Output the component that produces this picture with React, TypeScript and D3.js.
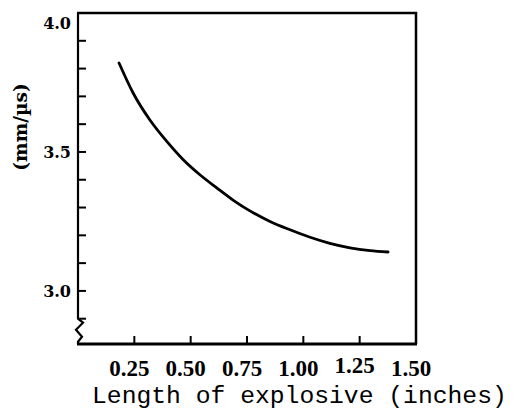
import React from "react";
import * as d3 from "d3";

const curveX = [0.182, 0.244, 0.32, 0.395, 0.466, 0.541, 0.617, 0.688, 0.763, 0.852, 0.941, 1.03, 1.118, 1.207, 1.296, 1.376];
const curveY = [3.82, 3.713, 3.614, 3.537, 3.473, 3.418, 3.37, 3.327, 3.288, 3.25, 3.22, 3.193, 3.171, 3.155, 3.145, 3.14];
const xTickValues = [0.25, 0.5, 0.75, 1.0, 1.25, 1.5];
const xTickLabels = ["0.25", "0.50", "0.75", "1.00", "1.25", "1.50"];
const yTickValues = [3.9, 3.8, 3.7, 3.6, 3.5, 3.4, 3.3, 3.2, 3.1, 3.0, 2.9];
const yLabelValues = [4.0, 3.5, 3.0];
const yLabelTexts = ["4.0", "3.5", "3.0"];
const xTitle = "Length of explosive (inches)";
const yTitle = "(mm/µs)";

export default function App() {
  const W = 513, H = 410;
  const left = 78, right = 416, top = 13, bottom = 344;
  const x = d3.scaleLinear().domain([0, 1.5]).range([left, right]);
  const y = d3.scaleLinear().domain([2.809, 4.0]).range([bottom, top]);
  const pts = curveX.map((v, i) => [x(v), y(curveY[i])] as [number, number]);
  const line = d3.line().curve(d3.curveMonotoneX)(pts) || "";
  const brk = y(2.9);
  const axisPath = `M${left},${top} L${left},${brk} L${left + 5},${brk + 4} L${left - 2},${brk + 11} L${left + 4},${brk + 18} L${left},${brk + 23} L${left},${bottom}`;
  return (
    <svg width={W} height={H} style={{ position: "absolute", left: 0, top: 0, background: "#fff" }}>
      <rect x={0} y={0} width={W} height={H} fill="#fff" />
      <path d={`M${left - 1},${top} L${right},${top} L${right},${bottom}`} fill="none" stroke="#000" strokeWidth={2.5} />
      <path d={`M${left - 1},${bottom} L${right + 1},${bottom}`} fill="none" stroke="#000" strokeWidth={3} />
      <path d={axisPath} fill="none" stroke="#000" strokeWidth={2.2} />
      {yTickValues.map((v) => (
        <line key={v} x1={left} x2={left + 8} y1={y(v)} y2={y(v)} stroke="#000" strokeWidth={2} />
      ))}
      {xTickValues.slice(0, 5).map((v) => (
        <line key={v} x1={x(v)} x2={x(v)} y1={bottom} y2={bottom - 8} stroke="#000" strokeWidth={2} />
      ))}
      {yLabelValues.map((v, i) => (
        <text key={v} x={left - 7} y={y(v) + (i === 0 ? 10 : 0)} dy="0.36em" textAnchor="end"
          fontFamily="DejaVu Serif" fontWeight="bold" fontSize={16}>{yLabelTexts[i]}</text>
      ))}
      {xTickValues.map((v, i) => (
        <text key={v} x={x(v) - 5} y={376 - (i === 4 ? 3 : 0)} textAnchor="middle"
          fontFamily="Liberation Serif" fontWeight="bold" fontSize={23}>{xTickLabels[i]}</text>
      ))}
      <text transform={`translate(27,127) rotate(-90)`} textAnchor="middle"
        fontFamily="DejaVu Serif" fontWeight="bold" fontSize={18.5}>{yTitle}</text>
      <text x={92} y={403} fontFamily="Liberation Mono" fontSize={24.7}>{xTitle}</text>
      <path d={line} fill="none" stroke="#000" strokeWidth={2.8} strokeLinecap="round" />
    </svg>
  );
}
